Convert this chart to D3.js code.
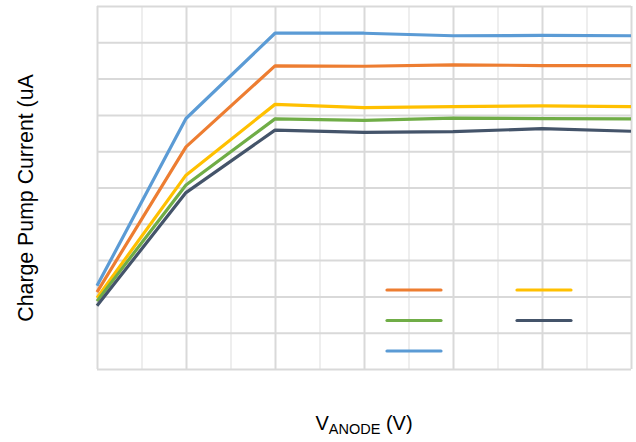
<!DOCTYPE html>
<html><head><meta charset="utf-8">
<script src="https://cdn.jsdelivr.net/npm/d3@7"></script>
<style>body{margin:0;background:#fff}svg{display:block}</style>
</head><body>
<svg id="c" width="636" height="442"></svg>
<script>
// x positions (category index of VANODE steps, no tick labels shown)
const xValues = [0, 1, 2, 3, 4, 5, 6];
// series values (read in grid units, no tick labels shown)
const blueValues   = [2.29, 6.90, 9.25, 9.25, 9.18, 9.19, 9.18];
const orangeValues = [2.12, 6.12, 8.35, 8.34, 8.38, 8.36, 8.36];
const yellowValues = [1.96, 5.34, 7.29, 7.20, 7.23, 7.25, 7.23];
const greenValues  = [1.87, 5.07, 6.89, 6.85, 6.91, 6.90, 6.89];
const darkValues   = [1.74, 4.86, 6.58, 6.52, 6.54, 6.62, 6.55];
const yTicks = [0,1,2,3,4,5,6,7,8,9,10];
const xMajorTicks = [0,1,2,3,4,5,6];
const xMinorTicks = [0.5,1.5,2.5,3.5,4.5,5.5];
const yTitle = "Charge Pump Current (uA";
const xTitleMain = "V", xTitleSub = "ANODE", xTitleTail = " (V)";

const series = [
  {values: blueValues,   color: "#5B9BD5"},
  {values: orangeValues, color: "#ED7D31"},
  {values: yellowValues, color: "#FFC000"},
  {values: greenValues,  color: "#70AD47"},
  {values: darkValues,   color: "#44546A"}
];
// legend order (rows of two)
const legendOrder = [1, 2, 3, 4, 0];

const svg = d3.select("#c");
const L = 97, R = 631, T = 6, B = 369;
const x = d3.scaleLinear().domain([0, 6]).range([L, R]);
const y = d3.scaleLinear().domain([0, 10]).range([B, T]);

const g = svg.append("g");
// minor vertical grid
g.append("g").attr("transform", `translate(0,${B})`)
  .call(d3.axisBottom(x).tickValues(xMinorTicks).tickSize(-(B - T)).tickFormat(""))
  .call(a => a.select(".domain").remove())
  .call(a => a.selectAll("line").attr("stroke", "#EEEEEE").attr("stroke-width", 2));
// horizontal grid
g.append("g").attr("transform", `translate(${L},0)`)
  .call(d3.axisLeft(y).tickValues(yTicks).tickSize(-(R - L)).tickFormat(""))
  .call(a => a.select(".domain").remove())
  .call(a => a.selectAll("line").attr("stroke", "#D9D9D9").attr("stroke-width", 2));
// major vertical grid
g.append("g").attr("transform", `translate(0,${B})`)
  .call(d3.axisBottom(x).tickValues(xMajorTicks).tickSize(-(B - T)).tickFormat(""))
  .call(a => a.select(".domain").remove())
  .call(a => a.selectAll("line").attr("stroke", "#D9D9D9").attr("stroke-width", 2));

const line = d3.line().x((d, i) => x(xValues[i])).y(d => y(d));
series.forEach(s => {
  svg.append("path").datum(s.values).attr("d", line)
    .attr("fill", "none").attr("stroke", s.color).attr("stroke-width", 3.2)
    .attr("stroke-linejoin", "round").attr("stroke-linecap", "butt");
});

// legend (line samples only)
const lx = d3.scaleOrdinal().domain([0, 1]).range([387, 517]);
legendOrder.forEach((si, k) => {
  const col = k % 2, row = Math.floor(k / 2);
  const ly = 290 + row * 30.5;
  svg.append("line").attr("x1", lx(col)).attr("x2", lx(col) + 54)
    .attr("y1", ly).attr("y2", ly)
    .attr("stroke", series[si].color).attr("stroke-width", 3.2).attr("stroke-linecap", "round");
});

// axis titles
svg.append("text").attr("transform", "translate(33,198) rotate(-90)")
  .attr("text-anchor", "middle").attr("font-family", "Liberation Sans, Arial, sans-serif")
  .attr("font-size", 21.3).attr("fill", "#000").text(yTitle);
const xt = svg.append("text").attr("x", 364).attr("y", 430)
  .attr("text-anchor", "middle").attr("font-family", "Liberation Sans, Arial, sans-serif")
  .attr("font-size", 20).attr("fill", "#000");
xt.append("tspan").text(xTitleMain);
xt.append("tspan").attr("font-size", 14.5).attr("dy", 3.5).text(xTitleSub);
xt.append("tspan").attr("dy", -3.5).text(xTitleTail);
</script>
</body></html>
